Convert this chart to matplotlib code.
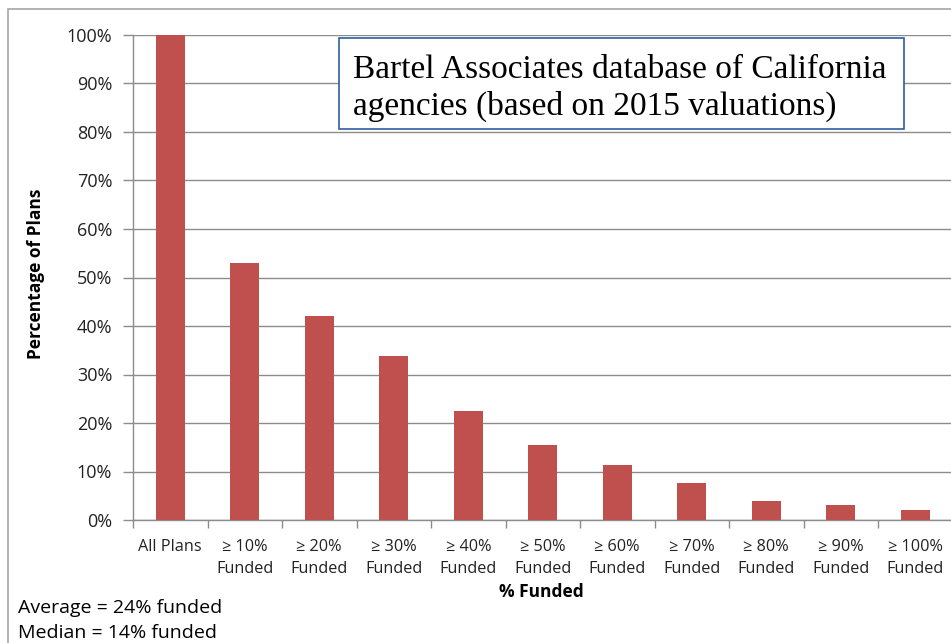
import matplotlib
matplotlib.use("Agg")
import matplotlib.pyplot as plt
from matplotlib.patches import Rectangle
import numpy as np

categories = ["All Plans", "\u2265 10%\nFunded", "\u2265 20%\nFunded", "\u2265 30%\nFunded",
              "\u2265 40%\nFunded", "\u2265 50%\nFunded", "\u2265 60%\nFunded", "\u2265 70%\nFunded",
              "\u2265 80%\nFunded", "\u2265 90%\nFunded", "\u2265 100%\nFunded"]
values = [100, 53.0, 42.0, 33.8, 22.5, 15.4, 11.3, 7.6, 3.9, 3.0, 2.0]
yticks = [0, 10, 20, 30, 40, 50, 60, 70, 80, 90, 100]
ytick_labels = [f"{v}%" for v in yticks]

plt.rcParams['font.family'] = ['Open Sans', 'DejaVu Sans']

fig = plt.figure(figsize=(9.51, 6.43), dpi=100)
W, H = 951, 643
ax = fig.add_axes([133 / W, 1 - 520 / H, (952.5 - 133) / W, (520 - 35) / H])

x = np.arange(len(categories))
ax.bar(x, values, width=0.39, color="#C0504D", zorder=3)

ax.set_xlim(-0.5, len(categories) - 0.5)
ax.set_ylim(0, 100)
ax.set_yticks(yticks)
ax.set_yticklabels(ytick_labels, fontsize=13, color="#222222")
ax.yaxis.grid(True, color="#8C8C8C", linewidth=1.0, zorder=0)
ax.tick_params(axis="y", length=7, color="#8C8C8C", width=1, pad=8)

ax.set_xticks(x)
ax.set_xticklabels(categories, fontsize=11.7, color="#222222", va="top", linespacing=1.45)
ax.tick_params(axis="x", which="major", length=0, pad=14)
ax.set_xticks(np.arange(-0.5, len(categories), 1.0), minor=True)
ax.tick_params(axis="x", which="minor", length=6, color="#8C8C8C", width=1, direction="out")

for s in ["top", "right"]:
    ax.spines[s].set_visible(False)
for s in ["left", "bottom"]:
    ax.spines[s].set_color("#8C8C8C")
    ax.spines[s].set_linewidth(1.0)

fig.text(36 / W, 1 - 274 / H, "Percentage of Plans", fontsize=12.5, fontweight="bold",
         rotation=90, ha="center", va="center")
fig.text(541 / W, 1 - 592 / H, "% Funded", fontsize=12.5, fontweight="bold",
         ha="center", va="center")

fig.text(18 / W, 1 - 608 / H, "Average = 24% funded", fontsize=14, ha="left", va="center")
fig.text(18 / W, 1 - 633 / H, "Median = 14% funded", fontsize=14, ha="left", va="center")

# outer frame
fig.patches.append(Rectangle((8 / W, -0.1), 1.2, 1 - 9 / H + 0.1, transform=fig.transFigure,
                             fill=False, edgecolor="#A6A6A6", linewidth=1.2))

# text box
fig.patches.append(Rectangle((339 / W, 1 - 129 / H), (904 - 339) / W, (129 - 38) / H,
                             transform=fig.transFigure, facecolor="white",
                             edgecolor="#2F5F9F", linewidth=1.2, zorder=5))
fig.text(353 / W, 1 - 78 / H, "Bartel Associates database of California",
         fontsize=24, family="Liberation Serif", ha="left", va="baseline", zorder=6)
fig.text(353 / W, 1 - 115 / H, "agencies (based on 2015 valuations)",
         fontsize=24, family="Liberation Serif", ha="left", va="baseline", zorder=6)

fig.savefig("out.png", dpi=100)
